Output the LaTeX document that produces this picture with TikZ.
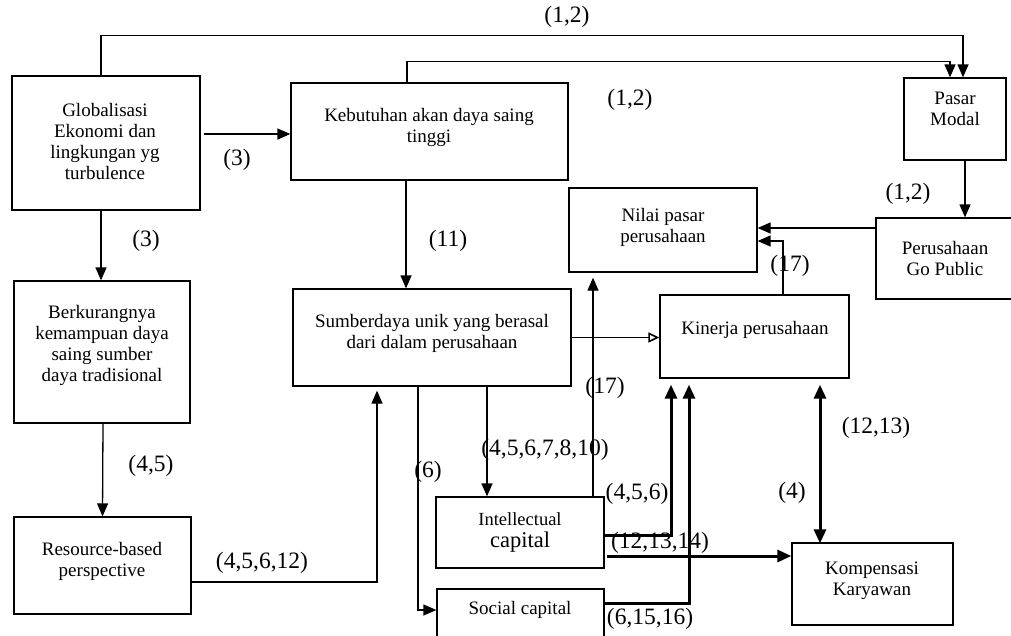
\documentclass[tikz,border=0pt]{standalone}
\usepackage{fontspec}
\setmainfont{Liberation Serif}
\usetikzlibrary{arrows.meta}
\tikzset{
  box/.style={draw, line width=1.3pt, inner sep=0pt},
  btext/.style={align=center, inner sep=0pt, font=\fontsize{19}{21}\selectfont},
  lbl/.style={inner sep=0pt, font=\fontsize{23.5}{25}\selectfont},
  arr/.style={line width=1.3pt, -{Triangle[length=13pt,width=11pt]}},
  oarr/.style={line width=1.3pt, -{Triangle[open,length=11pt,width=10pt,line width=1.6pt]}},
  tarr/.style={line width=3pt, -{Triangle[length=14pt,width=12pt]}},
  dtarr/.style={line width=3pt, {Triangle[length=14pt,width=12pt]}-{Triangle[length=14pt,width=12pt]}},
}
\begin{document}
\begin{tikzpicture}[x=1pt,y=-1pt]
\clip (0,0) rectangle (1011,635);
\fill[white] (0,0) rectangle (1011,635);
% boxes
\node[box, minimum width=188pt, minimum height=134pt] (glob) at (106,143) {};
\node[box, minimum width=277pt, minimum height=97pt] (keb) at (429.5,131.5) {};
\node[box, minimum width=102pt, minimum height=82pt] (pasar) at (955,119) {};
\node[box, minimum width=176pt, minimum height=142pt] (berk) at (102,352) {};
\node[box, minimum width=278pt, minimum height=97pt] (sumb) at (432,337.5) {};
\node[box, minimum width=188pt, minimum height=84pt] (nilai) at (663,230) {};
\node[box, minimum width=154pt, minimum height=81pt] (gop) at (953,258.5) {};
\node[box, minimum width=189pt, minimum height=83pt] (kin) at (754.5,336.5) {};
\node[box, minimum width=177pt, minimum height=97pt] (res) at (102.5,565.5) {};
\node[box, minimum width=168pt, minimum height=71pt] (ic) at (520,532.5) {};
\node[box, minimum width=167pt, minimum height=71pt] (soc) at (520.5,624.5) {};
\node[box, minimum width=161pt, minimum height=82pt] (komp) at (872.5,584) {};
% box texts
\node[btext] (globt) at (105,141) {Globalisasi\\Ekonomi dan\\lingkungan yg\\turbulence};
\node[btext] (kebt) at (429,127) {Kebutuhan akan daya saing\\tinggi};
\node[btext] (pasart) at (955,109) {Pasar\\Modal};
\node[btext] (berkt) at (102,345) {Berkurangnya\\kemampuan daya\\saing sumber\\daya tradisional};
\node[btext] (sumbt) at (432,333) {Sumberdaya unik yang berasal\\dari dalam perusahaan};
\node[btext] (nilait) at (663,227) {Nilai pasar\\perusahaan};
\node[btext] (gopt) at (945,258) {Perusahaan\\Go Public};
\node[btext] (kint) at (755,330) {Kinerja perusahaan};
\node[btext] (rest) at (102,561) {Resource-based\\perspective};
\node[btext, font=\fontsize{18.5}{20}\selectfont] (ict1) at (520,519) {Intellectual};
\node[btext, font=\fontsize{22.5}{24}\selectfont] (ict2) at (520,542) {capital};
\node[btext] (soct) at (520,610) {Social capital};
\node[btext] (kompt) at (872,581) {Kompensasi\\Karyawan};
% helper coordinates
\coordinate (g1) at ([yshift=9pt]glob.east);
\coordinate (k1) at ([xshift=-23.5pt]keb.south);
\coordinate (s1) at ([xshift=55pt]sumb.south);
\coordinate (i1) at ([xshift=73pt]ic.north);
\coordinate (kn) at ([xshift=28.5pt]kin.north);
\coordinate (gp) at ([yshift=30.5pt]gop.west);
\coordinate (pm) at ([xshift=10pt]pasar.south);
\coordinate (kk) at ([xshift=65.5pt,yshift=-6pt]kin.south);
% connectors
\draw[arr] ([xshift=-5pt]glob.north) -- ++(0,-40) -| ([xshift=8pt]pasar.north);
\draw[arr] ([xshift=-22.5pt]keb.north) -- ++(0,-21) -| ([xshift=-5pt]pasar.north);
\draw[arr] ([xshift=3pt]g1) -- (g1 -| keb.west);
\draw[arr] ([xshift=-5pt]glob.south) -- ([xshift=-1pt]berk.north);
\draw[arr] ([xshift=1pt]berk.south) -- (res.north);
\draw[arr] ([yshift=-16.5pt]res.east) -| ([xshift=-55pt,yshift=-4pt]sumb.south);
\draw[arr] (k1) -- (k1 |- sumb.north);
\draw[oarr] (sumb.east) -- (sumb.east -| kin.west);
\draw[arr] (s1) -- (s1 |- ic.north);
\draw[arr] ([xshift=-14pt]sumb.south) |- ([yshift=14.5pt]soc.west);
\draw[arr] (i1) -- ([yshift=-5pt]i1 |- nilai.south);
\draw[arr] (kn) |- ([yshift=-11pt]nilai.east);
\draw[arr] (gp) -- (gp -| nilai.east);
\draw[arr] (pm) -- (pm |- gop.north);
\draw[tarr] ([yshift=-2.5pt]ic.east) -| ([xshift=-83.5pt,yshift=-6pt]kin.south);
\draw[tarr] ([yshift=21.5pt]soc.east) -| ([xshift=-65.5pt,yshift=-6pt]kin.south);
\draw[tarr] ([xshift=2pt,yshift=-23.5pt]ic.east) -- ([yshift=-23.5pt]ic.east -| komp.west);
\draw[dtarr] (kk) -- ([yshift=-1pt]kk |- komp.north);
% labels
\node[lbl] (l1) at (567,17) {(1,2)};
\node[lbl] (l2) at (630,100) {(1,2)};
\node[lbl] (l3) at (237,160) {(3)};
\node[lbl] (l4) at (146,241) {(3)};
\node[lbl] (l5) at (448,241) {(11)};
\node[lbl] (l6) at (908,194) {(1,2)};
\node[lbl] (l7) at (790,266) {(17)};
\node[lbl] (l8) at (605,388) {(17)};
\node[lbl] (l9) at (151,466) {(4,5)};
\node[lbl] (l10) at (262,563) {(4,5,6,12)};
\node[lbl] (l11) at (545,450) {(4,5,6,7,8,10)};
\node[lbl] (l12) at (428,472) {(6)};
\node[lbl] (l13) at (637,494) {(4,5,6)};
\node[lbl] (l14) at (660,543) {(12,13,14)};
\node[lbl] (l15) at (650,619) {(6,15,16)};
\node[lbl] (l16) at (876,428) {(12,13)};
\node[lbl] (l17) at (792,493) {(4)};
\end{tikzpicture}
\end{document}
